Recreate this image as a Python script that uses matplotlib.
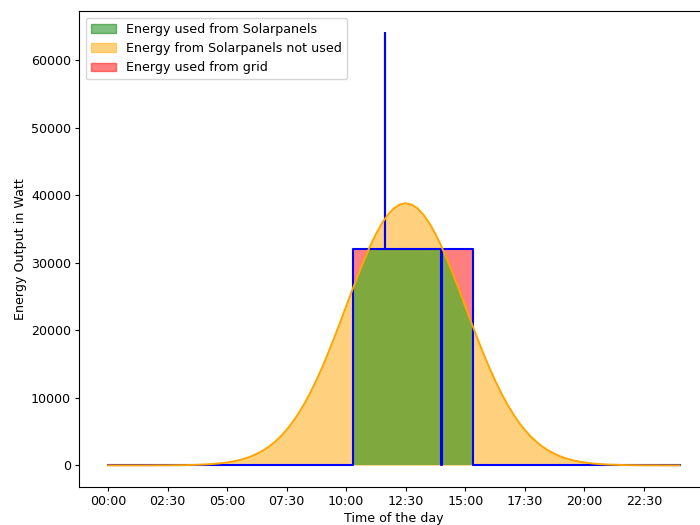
import numpy as np
import matplotlib.pyplot as plt
from matplotlib.patches import Patch
from matplotlib.path import Path
from matplotlib.ticker import FixedLocator, FuncFormatter

plt.rcParams['font.size'] = 9.1
for a in ('xtick', 'ytick'):
    plt.rcParams[a + '.major.size'] = 3.0
    plt.rcParams[a + '.major.pad'] = 3.0
plt.rcParams['axes.labelpad'] = 3.0

# Solar output, sampled every 15 minutes (00:00 .. 24:00)
solar_hours = np.arange(0, 24.25, 0.25)
solar_watt = [0, 0, 0, 0, 0, 0, 0, 0, 10, 10,
              10, 20, 30, 40, 60, 90, 120, 170, 230, 320,
              430, 580, 770, 1010, 1320, 1710, 2180, 2760, 3450, 4280,
              5250, 6380, 7680, 9150, 10790, 12600, 14560, 16670, 18890, 21190,
              23530, 25880, 28170, 30370, 32410, 34240, 35820, 37090, 38030, 38610,
              38800,
              38610, 38030, 37090, 35820, 34240, 32410, 30370, 28170, 25880, 23530,
              21190, 18890, 16670, 14560, 12600, 10790, 9150, 7680, 6380, 5250,
              4280, 3450, 2760, 2180, 1710, 1320, 1010, 770, 580, 430,
              320, 230, 170, 120, 90, 60, 40, 30, 20, 10,
              10, 10, 0, 0, 0, 0]

# Consumption: level changes (hour, watt), held until next change
load_hours = [0, 10.28, 11.63, 11.65, 14.0, 14.02, 15.32, 24]
load_watt = [0, 32000, 64000, 32000, 0, 32000, 0, 0]

labels = ['Energy used from Solarpanels',
          'Energy from Solarpanels not used',
          'Energy used from grid']

fig = plt.figure(figsize=(7, 5.25), dpi=100)
ax = fig.add_axes([0.1134, 0.0724, 0.8983, 0.9059])

# orange: everything under the solar curve
ax.fill_between(solar_hours, solar_watt, color='orange', alpha=0.5, lw=0)

# red: consumption area, clipped to the part above the solar curve
red = ax.fill_between(load_hours, load_watt, step='post', color='red', alpha=0.5, lw=0)
top = max(load_watt) * 2
sky_x = np.r_[solar_hours, solar_hours[-1], solar_hours[0], solar_hours[0]]
sky_y = np.r_[solar_watt, top, top, solar_watt[0]]
sky = Path(np.column_stack([sky_x, sky_y]), closed=True)
red.set_clip_path(sky, ax.transData)

# green: solar area clipped to the consumption area
green = ax.fill_between(solar_hours, solar_watt, color='green', alpha=0.5, lw=0)
green.set_clip_path(red.get_paths()[0], ax.transData)

ax.step(load_hours, load_watt, where='post', color='blue', lw=1.5)
ax.plot(solar_hours, solar_watt, color='orange', lw=1.4)

ax.xaxis.set_major_locator(FixedLocator(np.arange(0, solar_hours[-1], 2.5)))
ax.xaxis.set_major_formatter(FuncFormatter(
    lambda h, pos: '%02d:%02d' % (int(h), round((h - int(h)) * 60))))
ax.set_xlabel('Time of the day')
ax.set_ylabel('Energy Output in Watt')

handles = [Patch(color=c, alpha=0.5, label=l)
           for c, l in zip(['green', 'orange', 'red'], labels)]
ax.legend(handles=handles, loc='upper left')

fig.savefig('out.png')
